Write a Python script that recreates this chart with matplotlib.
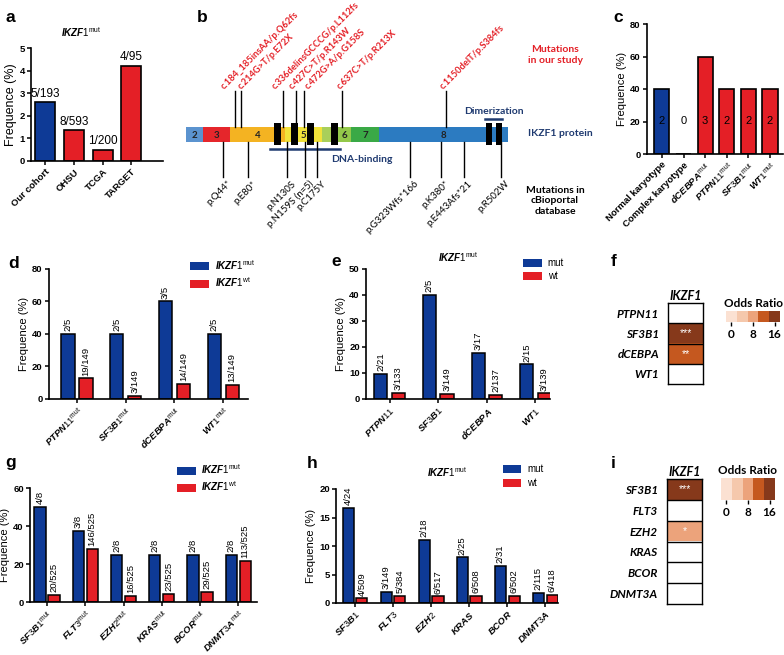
import numpy as np
import matplotlib
matplotlib.use('Agg')
import matplotlib.pyplot as plt
from matplotlib.patches import Rectangle, Patch
from matplotlib.colors import ListedColormap, BoundaryNorm

# ---------------- data ----------------
# a: IKZF1 mutation frequency by cohort
cohorts = ['Our cohort', 'OHSU', 'TCGA', 'TARGET']
cohort_freq = [2.59, 1.35, 0.50, 4.21]
cohort_counts = ['5/193', '8/593', '1/200', '4/95']

# b: IKZF1 protein schematic (positions along the drawn protein bar)
exon_names = ['2', '3', '4', '5', '', '6', '7', '8']
exon_edges = [0, 17, 44, 99, 136, 152, 165, 193, 322]
zinc_fingers = [91, 108, 124, 148]
dimer_domains = [303, 313]
study_muts = ['c.184_185insAA/p.Q62fs', 'c.214G>T/p.E72X', 'c.336delinsGCCCG/p.L112fs',
              'c.427C>T/p.R143W', 'c.472G>A/p.G158S', 'c.637C>T/p.R213X', 'c.1150delT/p.S384fs']
study_pos = [49, 55, 97, 110, 118, 156, 260]
study_label_pos = [40, 57, 91, 108, 124, 156, 259]
cbio_muts = ['p.Q44*', 'p.E80*', 'p.N130S', 'p.N159S (n=5)', 'p.C175Y',
             'p.G323Wfs*166', 'p.K380*', 'p.E443Afs*21', 'p.R502W']
cbio_pos = [37, 62, 101, 119, 131, 224, 255, 278, 315]

# c: frequency in IKZF1-mutated patients
karyo_groups = ['Normal karyotype', 'Complex karyotype', 'dCEBPA', 'PTPN11', 'SF3B1', 'WT1']
karyo_freq = [40, 0, 60, 40, 40, 40]
karyo_n = ['2', '0', '3', '2', '2', '2']

# d: co-mutations, IKZF1 mut vs wt
d_genes = ['PTPN11', 'SF3B1', 'dCEBPA', 'WT1']
d_mut = [40, 40, 60, 40]
d_wt = [12.75, 2.01, 9.40, 8.72]
d_mut_txt = ['2/5', '2/5', '3/5', '2/5']
d_wt_txt = ['19/149', '3/149', '14/149', '13/149']

# e: IKZF1 mut frequency in gene mut vs wt
e_genes = ['PTPN11', 'SF3B1', 'dCEBPA', 'WT1']
e_mut = [9.52, 40.0, 17.65, 13.33]
e_wt = [2.26, 2.01, 1.46, 2.16]
e_mut_txt = ['2/21', '2/5', '3/17', '2/15']
e_wt_txt = ['3/133', '3/149', '2/137', '3/139']

# f: odds ratios
f_genes = ['PTPN11', 'SF3B1', 'dCEBPA', 'WT1']
f_odds = [np.nan, 17, 12, np.nan]
f_stars = ['', '***', '**', '']

# g: validation cohort, IKZF1 mut vs wt
g_genes = ['SF3B1', 'FLT3', 'EZH2', 'KRAS', 'BCOR', 'DNMT3A']
g_mut = [50.0, 37.5, 25.0, 25.0, 25.0, 25.0]
g_wt = [3.81, 27.81, 3.05, 4.38, 5.52, 21.52]
g_mut_txt = ['4/8', '3/8', '2/8', '2/8', '2/8', '2/8']
g_wt_txt = ['20/525', '146/525', '16/525', '23/525', '29/525', '113/525']

# h: IKZF1 mut frequency in gene mut vs wt (validation)
h_genes = ['SF3B1', 'FLT3', 'EZH2', 'KRAS', 'BCOR', 'DNMT3A']
h_mut = [16.67, 2.01, 11.11, 8.00, 6.45, 1.74]
h_wt = [0.79, 1.30, 1.16, 1.18, 1.20, 1.44]
h_mut_txt = ['4/24', '3/149', '2/18', '2/25', '2/31', '2/115']
h_wt_txt = ['4/509', '5/384', '6/517', '6/508', '6/502', '6/418']

# i: odds ratios (validation)
i_genes = ['SF3B1', 'FLT3', 'EZH2', 'KRAS', 'BCOR', 'DNMT3A']
i_odds = [18, np.nan, 8, np.nan, np.nan, np.nan]
i_stars = ['***', '', '*', '', '', '']

or_ticks = [0, 8, 16]
or_levels = [0, 4, 8, 12, 16]

# ---------------- style ----------------
W, H = 784, 655
BLUE = '#0e3a96'
RED = '#e41f26'
NAVY = '#1f3a70'
EXON_COLORS = ['#5b93cf', '#e5262b', '#f4b322', '#f1e23a', '#a9cf5a', '#93c84a', '#3aa946', '#2c7bc1']
OR_COLORS = ['#fbe1d2', '#f5c8ac', '#eca37b', '#c5581f', '#86391b']
OR_BINS = [-2, 2, 6, 10, 14, 30]
SANS = 'Liberation Sans'
CAL = 'Lato'

plt.rcParams['font.family'] = [SANS, 'DejaVu Sans']
plt.rcParams['mathtext.fontset'] = 'custom'
plt.rcParams['mathtext.it'] = 'Liberation Sans:italic:bold'
plt.rcParams['mathtext.rm'] = 'Liberation Sans'
plt.rcParams['mathtext.bf'] = 'Liberation Sans:bold'


def px(l, t, r, b):
    """像素框 -> figure 坐标"""
    return [l / W, 1 - b / H, (r - l) / W, (b - t) / H]


def gene_label(name, sup=None):
    if sup:
        return r'$\mathit{' + name + r'}^{\mathrm{' + sup + '}}$'
    return r'$\mathit{' + name + '}$'


def style_axis(ax, ylabel_size=8):
    for s in ['top', 'right']:
        ax.spines[s].set_visible(False)
    for s in ['left', 'bottom']:
        ax.spines[s].set_linewidth(1.2)
    ax.tick_params(width=1.1, length=3, labelsize=6.8, pad=1.5)
    for lab in ax.get_yticklabels():
        lab.set_fontweight('bold')
    ax.set_ylabel('Frequence (%)', fontsize=ylabel_size, labelpad=2)


def set_xlabels(ax, labels, size=7.5):
    ax.set_xticks(np.arange(len(labels)))
    ax.set_xticklabels(labels, rotation=45, ha='right', rotation_mode='anchor',
                       fontsize=size, fontweight='bold')


def panel_letter(fig, x, y, s):
    fig.text(x / W, 1 - y / H, s, fontsize=12.5, fontweight='bold', ha='left', va='center')


def plot_cohorts(ax):
    x = np.arange(len(cohorts))
    colors = [BLUE] + [RED] * (len(cohorts) - 1)
    ax.bar(x, cohort_freq, width=0.7, color=colors, edgecolor='k', linewidth=1.2)
    for xi, v, t in zip(x, cohort_freq, cohort_counts):
        ax.annotate(t, (xi, v), xytext=(0, 2), textcoords='offset points',
                    ha='center', va='bottom', fontsize=8.5)
    ax.set_xlim(-0.5, 4.1)
    ax.set_ylim(0, 5)
    ax.set_yticks(range(0, 6))
    set_xlabels(ax, cohorts, 7.5)
    style_axis(ax, 9)
    ax.text(0.38, 1.14, gene_label('IKZF1', 'mut'), transform=ax.transAxes,
            ha='center', va='center', fontsize=7)


def plot_protein(ax):
    ax.set_xlim(-26, 414)
    ax.set_ylim(240, 0)
    ax.axis('off')
    top, bot = 127, 142
    for i, name in enumerate(exon_names):
        x0, x1 = exon_edges[i], exon_edges[i + 1]
        ax.add_patch(Rectangle((x0, top), x1 - x0, bot - top, color=EXON_COLORS[i], lw=0))
        if name:
            ax.text((x0 + x1) / 2, (top + bot) / 2 + 0.5, name, ha='center', va='center',
                    fontsize=7, fontweight='bold', color='#222222', family=CAL)
    for c in zinc_fingers:
        ax.add_patch(Rectangle((c - 3.5, top - 4), 7, 22, color='k', lw=0, zorder=3))
    for c in dimer_domains:
        ax.add_patch(Rectangle((c - 3, top - 4), 6, 22, color='k', lw=0, zorder=3))

    # 结构域注释
    ax.plot([84, 154], [149, 149], color=NAVY, lw=1.8)
    ax.text(176, 159, 'DNA-binding', ha='center', va='center', fontsize=7.5,
            fontweight='bold', color=NAVY, family=CAL)
    ax.plot([299, 316], [119, 119], color=NAVY, lw=1.8)
    ax.text(308, 111, 'Dimerization', ha='center', va='center', fontsize=7.5,
            fontweight='bold', color=NAVY, family=CAL)

    # 本研究突变
    for p, lp, m in zip(study_pos, study_label_pos, study_muts):
        ax.plot([p, p], [top, 91], color='k', lw=1)
        ax.text(lp, 91, m, rotation=45, ha='left', va='bottom', rotation_mode='anchor',
                color=RED, fontsize=6.7, fontweight='bold', family=CAL)
    # cBioportal 突变
    for p, m in zip(cbio_pos, cbio_muts):
        ax.plot([p, p], [bot, 177], color='k', lw=1)
        ax.text(p + 4, 179, m, rotation=45, ha='right', va='top', rotation_mode='anchor',
                color='k', fontsize=7, family=CAL)

    ax.text(369, 55, 'Mutations\nin our study', ha='center', va='center', fontsize=7.5,
            color=RED, fontweight='bold', family=CAL, linespacing=1.35)
    ax.text(342, 134, 'IKZF1 protein', ha='left', va='center', fontsize=7.5,
            color=NAVY, fontweight='bold', family=CAL)
    ax.text(369, 201, 'Mutations in\ncBioportal\ndatabase', ha='center', va='center',
            fontsize=7.5, color='k', fontweight='bold', family=CAL, linespacing=1.15)


def plot_karyotype(ax):
    x = np.arange(len(karyo_groups))
    colors = [BLUE] + [RED] * (len(karyo_groups) - 1)
    ax.bar(x, karyo_freq, width=0.7, color=colors, edgecolor='k', linewidth=1.2)
    for xi, t in zip(x, karyo_n):
        ax.text(xi, 20, t, ha='center', va='center', fontsize=8)
    ax.set_xlim(-0.69, 5.6)
    ax.set_ylim(0, 80)
    ax.set_yticks(range(0, 81, 20))
    labels = karyo_groups[:2] + [gene_label(g, 'mut') for g in karyo_groups[2:]]
    set_xlabels(ax, labels, 7.8)
    style_axis(ax)


def plot_pairs(ax, genes, mut, wt, mut_txt, wt_txt, xlim, ylim, ystep, width, off, lsize=7.5):
    x = np.arange(len(genes))
    ax.bar(x - off, mut, width=width, color=BLUE, edgecolor='k', linewidth=1.1)
    ax.bar(x + off, wt, width=width, color=RED, edgecolor='k', linewidth=1.1)
    for xi, v, t in zip(x - off, mut, mut_txt):
        ax.annotate(t, (xi, v), xytext=(0, 2), textcoords='offset points', rotation=90,
                    ha='center', va='bottom', fontsize=6.8)
    for xi, v, t in zip(x + off, wt, wt_txt):
        ax.annotate(t, (xi, v), xytext=(0, 2), textcoords='offset points', rotation=90,
                    ha='center', va='bottom', fontsize=6.8)
    ax.set_xlim(*xlim)
    ax.set_ylim(0, ylim)
    ax.set_yticks(np.arange(0, ylim + 0.1, ystep))
    set_xlabels(ax, genes, lsize)
    style_axis(ax)


def add_legend(ax, labels, anchor):
    handles = [Patch(facecolor=BLUE, edgecolor='none'), Patch(facecolor=RED, edgecolor='none')]
    ax.legend(handles, labels, loc='upper left', bbox_to_anchor=anchor, frameon=False,
              fontsize=7, handlelength=1.9, handleheight=0.9, handletextpad=0.6,
              labelspacing=0.35, borderpad=0, borderaxespad=0)


def plot_heatmap(ax, cax, genes, odds, stars):
    cmap = ListedColormap(OR_COLORS)
    cmap.set_bad('white')
    norm = BoundaryNorm(OR_BINS, cmap.N)
    n = len(genes)
    data = np.ma.masked_invalid(np.array(odds, dtype=float).reshape(-1, 1))
    ax.imshow(data, cmap=cmap, norm=norm, aspect='auto', extent=(0, 1, n, 0),
              interpolation='nearest')
    for k in range(1, n):
        ax.axhline(k, color='k', lw=1)
    for k, s in enumerate(stars):
        if s:
            ax.text(0.5, k + 0.5, s, ha='center', va='center', color='white', fontsize=7.5)
    ax.set_xticks([])
    ax.set_yticks(np.arange(n) + 0.5)
    ax.set_yticklabels(genes, fontsize=8.5, fontweight='bold', fontstyle='italic', family=CAL)
    ax.tick_params(left=False, pad=3)
    for s in ax.spines.values():
        s.set_linewidth(1)
    ax.set_title('IKZF1', fontsize=9, fontweight='bold', fontstyle='italic', family=CAL, pad=2)

    cax.imshow(np.array(or_levels).reshape(1, -1), cmap=cmap, norm=norm, aspect='auto',
               extent=(-2, 18, 0, 1))
    cax.set_xticks(or_ticks)
    cax.set_xticklabels([str(t) for t in or_ticks], fontsize=8.5, fontweight='bold', family=CAL)
    cax.set_yticks([])
    cax.tick_params(axis='x', length=3, width=1, pad=2)
    for s in cax.spines.values():
        s.set_visible(False)
    cax.set_title('Odds Ratio', fontsize=8.5, fontweight='bold', family=CAL, pad=3)


def main():
    fig = plt.figure(figsize=(W / 100, H / 100), dpi=100)

    plot_protein(fig.add_axes(px(160, 0, 600, 240)))

    plot_cohorts(fig.add_axes(px(31, 48, 163, 161)))
    plot_karyotype(fig.add_axes(px(647, 24, 783, 154)))

    ax_d = fig.add_axes(px(49, 269, 248, 399))
    plot_pairs(ax_d, [gene_label(g, 'mut') for g in d_genes], d_mut, d_wt, d_mut_txt, d_wt_txt,
               (-0.575, 3.51), 80, 20, 0.27, 0.185)
    add_legend(ax_d, [gene_label('IKZF1', 'mut'), gene_label('IKZF1', 'wt')], (0.71, 1.085))

    ax_e = fig.add_axes(px(366, 269, 550, 399))
    plot_pairs(ax_e, [gene_label(g) for g in e_genes], e_mut, e_wt, e_mut_txt, e_wt_txt,
               (-0.486, 3.3), 50, 10, 0.27, 0.18)
    add_legend(ax_e, ['mut', 'wt'], (0.855, 1.085))
    ax_e.text(0.5, 1.09, gene_label('IKZF1', 'mut'), transform=ax_e.transAxes,
              ha='center', va='center', fontsize=7)

    ax_g = fig.add_axes(px(30, 488, 257, 602))
    plot_pairs(ax_g, [gene_label(g, 'mut') for g in g_genes], g_mut, g_wt, g_mut_txt, g_wt_txt,
               (-0.445, 5.49), 60, 20, 0.29, 0.183, 7)
    add_legend(ax_g, [gene_label('IKZF1', 'mut'), gene_label('IKZF1', 'wt')], (0.648, 1.225))

    ax_h = fig.add_axes(px(336, 489, 558, 603))
    plot_pairs(ax_h, [gene_label(g) for g in h_genes], h_mut, h_wt, h_mut_txt, h_wt_txt,
               (-0.5, 5.34), 20, 5, 0.29, 0.183, 7)
    add_legend(ax_h, ['mut', 'wt'], (0.752, 1.215))
    ax_h.text(0.5, 1.15, gene_label('IKZF1', 'mut'), transform=ax_h.transAxes,
              ha='center', va='center', fontsize=7)

    plot_heatmap(fig.add_axes(px(668, 303, 703, 384)), fig.add_axes(px(726, 311, 780, 322)),
                 f_genes, f_odds, f_stars)
    plot_heatmap(fig.add_axes(px(667, 479, 702, 604)), fig.add_axes(px(721, 478, 775, 500)),
                 i_genes, i_odds, i_stars)

    for s, x, y in [('a', 5, 17), ('b', 197, 17), ('c', 613, 17), ('d', 8, 263), ('e', 331, 262),
                    ('f', 611, 262), ('g', 5, 462), ('h', 307, 464), ('i', 611, 463)]:
        panel_letter(fig, x, y, s)

    fig.savefig('out.png', dpi=100)


if __name__ == '__main__':
    main()
